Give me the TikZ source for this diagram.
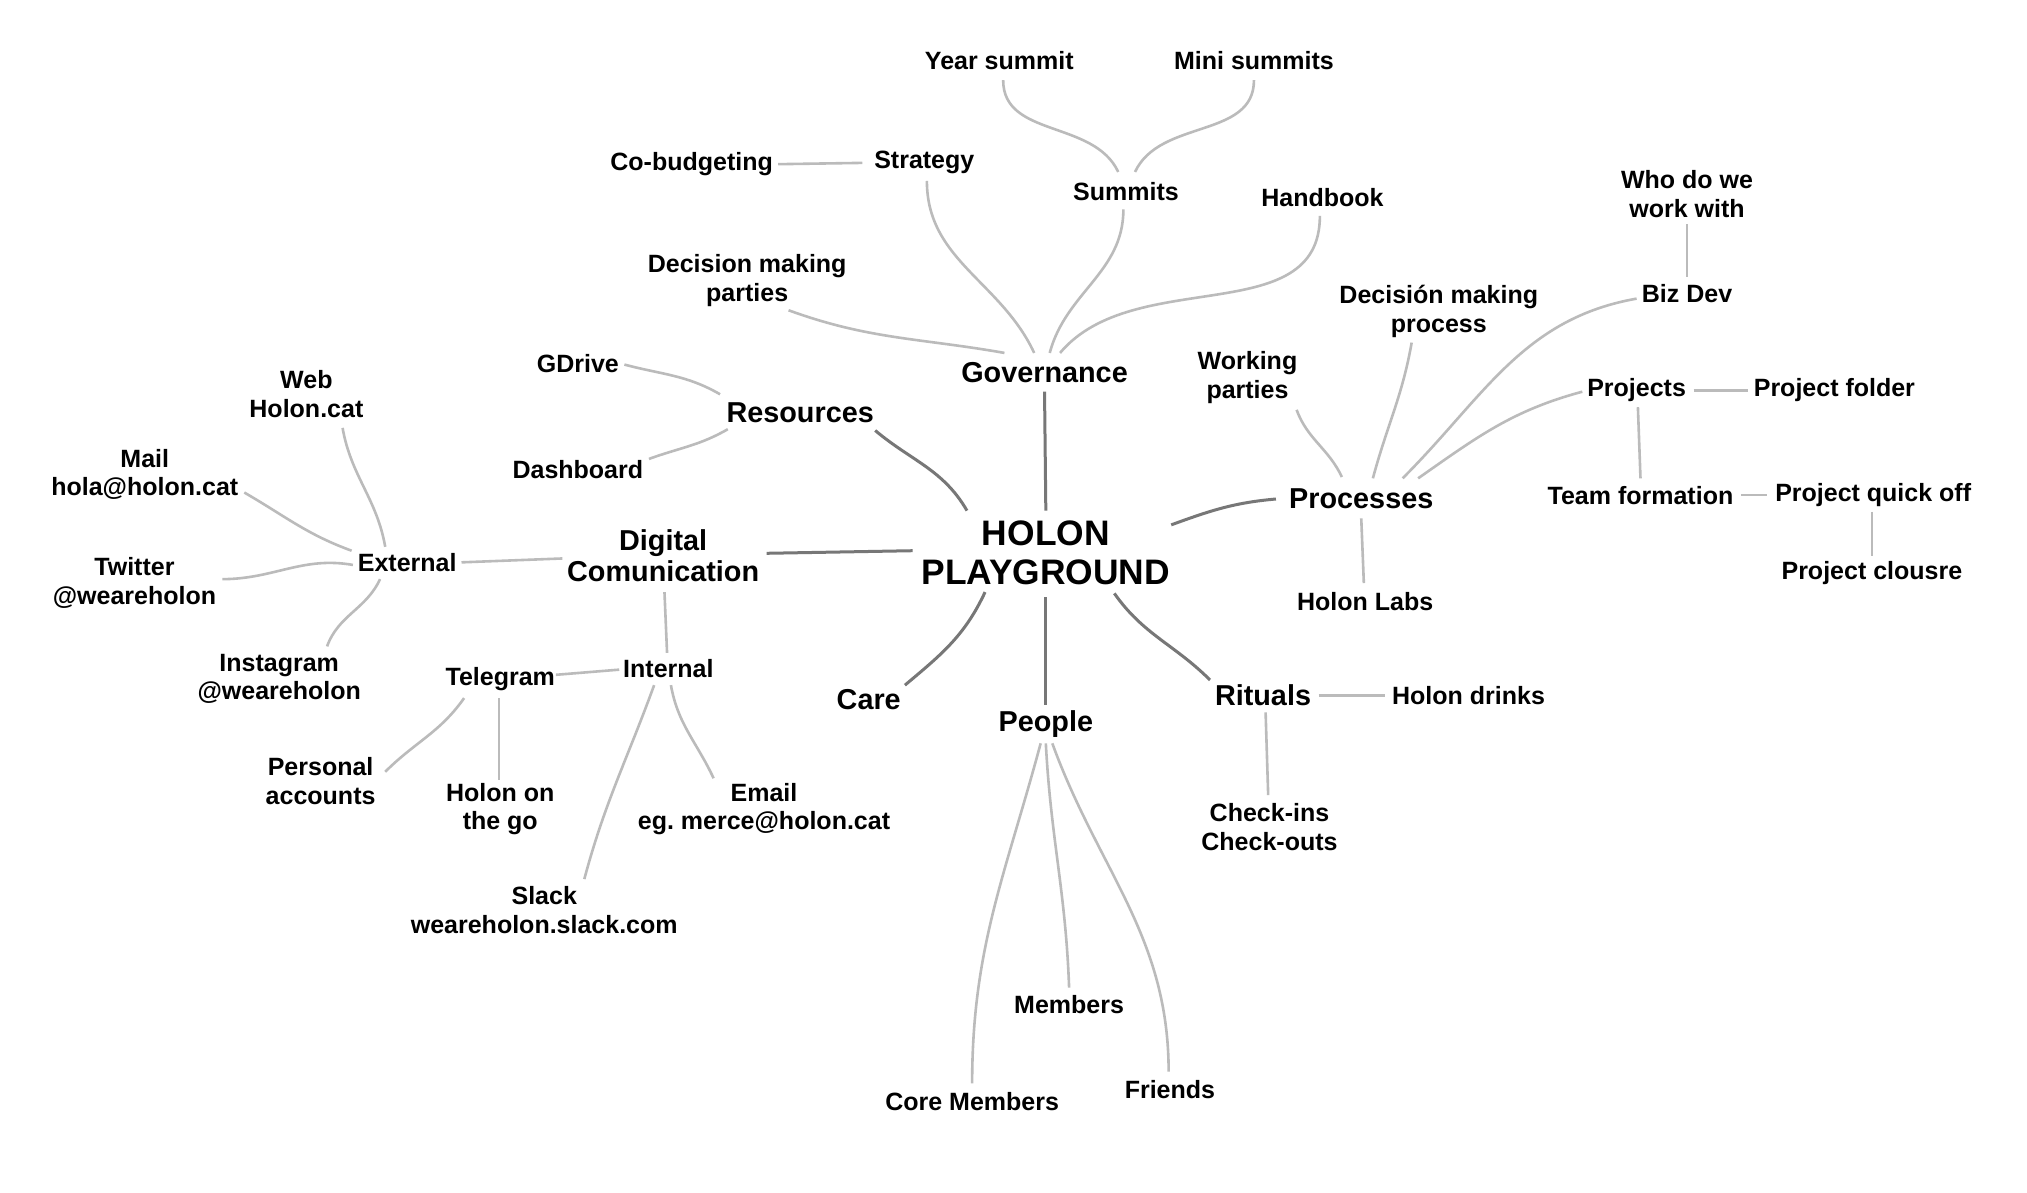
\documentclass[tikz,border=0pt]{standalone}
\usepackage{fontspec}
\setmainfont{Liberation Sans}
\usetikzlibrary{calc}
\definecolor{darkline}{HTML}{777777}
\definecolor{lightline}{HTML}{BBBBBB}
\frenchspacing
\begin{document}
\begin{tikzpicture}[x=0.64637pt,y=0.64637pt,
  every node/.style={inner sep=0pt, align=center, text=black},
  sm/.style={font=\fontsize{12.5}{14.3}\selectfont\bfseries},
  md/.style={font=\fontsize{14.4}{15.6}\selectfont\bfseries},
  lg/.style={font=\fontsize{17.7}{19.5}\selectfont\bfseries},
  dk/.style={draw=darkline, line width=1.5pt},
  lt/.style={draw=lightline, line width=1.3pt}]
\useasboundingbox[fill=white] (0,0) rectangle (1568,-922.8);

% main
\node[lg] (hol) at (809,-428) {HOLON\\PLAYGROUND};
\node[md] (gov) at (808,-288) {Governance};
\node[md] (res) at (619,-319) {Resources};
\node[md] (dig) at (513,-430) {Digital\\Comunication};
\node[md] (pro) at (1053,-386) {Processes};
\node[md] (care) at (672,-541) {Care};
\node[md] (peo) at (809,-560) {People};
\node[md] (rit) at (977,-538) {Rituals};
% sub
\node[sm] (ys) at (773,-47) {Year summit};
\node[sm] (ms) at (970,-47) {Mini summits};
\node[sm] (cob) at (535,-127) {Co-budgeting};
\node[sm] (str) at (715,-126) {Strategy};
\node[sm] (sum) at (871,-148) {Summits};
\node[sm] (hb) at (1023,-153) {Handbook};
\node[sm] (dmp) at (578,-217) {Decision making\\parties};
\node[sm] (who) at (1305,-150) {Who do we\\work with};
\node[sm] (dmproc) at (1113,-241) {Decisión making\\process};
\node[sm] (biz) at (1305,-227) {Biz Dev};
\node[sm] (gd) at (447,-281) {GDrive};
\node[sm] (wp) at (965,-292) {Working\\parties};
\node[sm] (prj) at (1266,-302) {Projects};
\node[sm] (pf) at (1419,-302) {Project folder};
\node[sm] (web) at (237,-305) {Web\\Holon.cat};
\node[sm] (mail) at (112,-367) {Mail\\hola@holon.cat};
\node[sm] (dash) at (447,-363) {Dashboard};
\node[sm] (tf) at (1269,-383) {Team formation};
\node[sm] (pqo) at (1449,-383) {Project quick off};
\node[sm] (ext) at (315,-435) {External};
\node[sm] (tw) at (104,-451) {Twitter\\@weareholon};
\node[sm] (pc) at (1448,-443) {Project clousre};
\node[sm] (hl) at (1056,-465) {Holon Labs};
\node[sm] (ins) at (216,-525) {Instagram\\@weareholon};
\node[sm] (int) at (517,-517) {Internal};
\node[sm] (tel) at (387,-525) {Telegram};
\node[sm] (hd) at (1136,-538) {Holon drinks};
\node[sm] (pa) at (248,-604) {Personal\\accounts};
\node[sm] (hog) at (387,-626) {Holon on\\the go};
\node[sm] (em) at (591,-626) {Email\\eg. merce@holon.cat};
\node[sm] (chk) at (982,-640) {Check-ins\\Check-outs};
\node[sm] (sl) at (421,-704) {Slack\\weareholon.slack.com};
\node[sm] (mem) at (827,-777) {Members};
\node[sm] (fr) at (905,-843) {Friends};
\node[sm] (core) at (752,-852) {Core Members};

% dark connectors
\draw[dk] ($(hol)+(0,33)$) -- ($(gov)+(0,-15)$);
\draw[dk] ($(hol)+(-61,33)$) to[out=120,in=-40] ($(res)+(58,-14)$);
\draw[dk] ($(hol)+(-103,2)$) -- ($(dig)+(80,2)$);
\draw[dk] ($(hol)+(97,22)$) to[out=20,in=185] ($(pro)+(-66,0)$);
\draw[dk] ($(hol)+(-47,-30)$) to[out=-115,in=40] ($(care)+(28,11)$);
\draw[dk] ($(hol)+(0,-34)$) -- ($(peo)+(0,15)$);
\draw[dk] ($(hol)+(53,-31)$) to[out=-55,in=135] ($(rit)+(-41,12)$);

% light connectors
\draw[lt] ($(gov)+(-31,15)$) to[out=170,in=-20] ($(dmp)+(32,-23)$);
\draw[lt] ($(gov)+(-8,15)$) to[out=115,in=-90] ($(str)+(2,-14)$);
\draw[lt] ($(gov)+(4,15)$) to[out=75,in=-90] ($(sum)+(-2,-14)$);
\draw[lt] ($(gov)+(12,15)$) to[out=50,in=-90] ($(hb)+(-2,-14)$);
\draw[lt] ($(sum)+(-6,15)$) to[out=115,in=-90] ($(ys)+(3,-15)$);
\draw[lt] ($(sum)+(7,15)$) to[out=65,in=-90] ($(ms)+(0,-15)$);
\draw[lt] ($(str)+(-48,0)$) -- ($(cob)+(67,0)$);
\draw[lt] ($(res)+(-62,14)$) to[out=150,in=-15] ($(gd)+(36,-1)$);
\draw[lt] ($(res)+(-56,-13)$) to[out=-150,in=20] ($(dash)+(55,8)$);
\draw[lt] ($(dig)+(-78,-2)$) -- ($(ext)+(42,0)$);
\draw[lt] ($(dig)+(1,-28)$) -- ($(int)+(-1,12)$);
\draw[lt] ($(ext)+(-17,12)$) to[out=100,in=-80] ($(web)+(28,-26)$);
\draw[lt] ($(ext)+(-43,9)$) to[out=160,in=-30] ($(mail)+(77,-14)$);
\draw[lt] ($(ext)+(-42,-2)$) to[out=170,in=0] ($(tw)+(68,3)$);
\draw[lt] ($(ext)+(-21,-13)$) to[out=-115,in=70] ($(ins)+(37,25)$);
\draw[lt] ($(int)+(-38,-1)$) -- ($(tel)+(43,3)$);
\draw[lt] ($(int)+(-11,-13)$) to[out=-110,in=75] ($(sl)+(31,24)$);
\draw[lt] ($(int)+(2,-13)$) to[out=-80,in=115] ($(em)+(-39,24)$);
\draw[lt] ($(tel)+(-28,-15)$) to[out=-125,in=45] ($(pa)+(50,7)$);
\draw[lt] ($(tel)+(-1,-15)$) -- ($(hog)+(-1,23)$);
\draw[lt] ($(pro)+(-15,17)$) to[out=115,in=-70] ($(wp)+(38,-25)$);
\draw[lt] ($(pro)+(9,16)$) to[out=75,in=-100] ($(dmproc)+(-21,-24)$);
\draw[lt] ($(pro)+(32,16)$) to[out=45,in=190] ($(biz)+(-39,-4)$);
\draw[lt] ($(pro)+(44,16)$) to[out=35,in=195] ($(prj)+(-42,-1)$);
\draw[lt] ($(pro)+(0,-15)$) -- ($(hl)+(-1,14)$);
\draw[lt] ($(biz)+(0,13)$) -- ($(who)+(0,-23)$);
\draw[lt] ($(prj)+(44,0)$) -- ($(pf)+(-67,0)$);
\draw[lt] ($(prj)+(1,-13)$) -- ($(tf)+(0,13)$);
\draw[lt] ($(tf)+(78,0)$) -- ($(pqo)+(-82,0)$);
\draw[lt] ($(pqo)+(-1,-13)$) -- ($(pc)+(0,13)$);
\draw[lt] ($(rit)+(43,0)$) -- ($(hd)+(-65,0)$);
\draw[lt] ($(rit)+(2,-13)$) -- ($(chk)+(-1,25)$);
\draw[lt] ($(peo)+(-4,-15)$) to[out=-105,in=90] ($(core)+(0,14)$);
\draw[lt] ($(peo)+(0,-15)$) to[out=-87,in=92] ($(mem)+(0,13)$);
\draw[lt] ($(peo)+(5,-15)$) to[out=-70,in=90] ($(fr)+(-1,14)$);
\end{tikzpicture}
\end{document}
